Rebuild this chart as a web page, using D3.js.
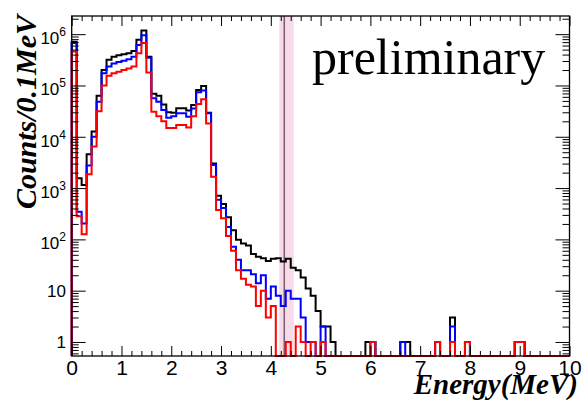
<!DOCTYPE html>
<html><head><meta charset="utf-8">
<script src="https://cdn.jsdelivr.net/npm/d3@7"></script>
<style>body{margin:0;background:#fff;} svg{display:block;}</style>
</head><body>
<svg id="c" width="582" height="401"></svg>
<script>
// ---- data (counts per 0.1 MeV bin, 100 bins from 0 to 10 MeV) ----
const binWidth = 0.1;
const blackCounts = [
 708000,1550,1150,4570,12600,63000,200000,316000,363000,389000,
 407000,427000,468000,776000,1175000,363000,69000,63000,42700,30200,
 29500,35900,35900,32400,41700,81300,97700,29500,3020,708,
 490,270,150,98,83,76,52,46,43,38,
 42,43,37,42,28,25,18,11,8,4,
 2,2,1,0,0,0,0,0,0,1,
 1,0,0,0,0,0,1,1,0,0,
 0,0,0,1,0,0,3,0,0,1,
 0,0,0,0,0,0,0,0,0,1,
 1,0,0,0,0,0,0,0,0,0];
const blueCounts = [
 676000,347,204,2750,10000,47900,174000,234000,269000,288000,
 302000,324000,363000,617000,955000,347000,56200,47900,33100,23400,
 25100,28800,28800,24500,35500,74100,79400,28800,2820,589,
 407,174,72,40,25,25,21,14,20,7,
 12,8,5,10,7,7,3,1,1,0,
 2,0,0,0,0,0,0,0,0,0,
 1,0,0,0,0,0,1,0,0,0,
 0,0,0,1,0,0,2,0,0,1,
 0,0,0,0,0,0,0,0,0,1,
 1,0,0,0,0,0,0,0,0,0];
const redCounts = [
 457000,282,126,1860,6460,31600,100000,155000,174000,186000,
 200000,214000,234000,427000,676000,178000,30900,25100,20000,14800,
 14800,17000,17000,15100,25100,43700,53700,18200,1660,372,
 257,117,60,25,17,13,12,5,10,3,
 5,0,0,1,0,2,1,0,1,0,
 1,0,0,0,0,0,0,0,0,0,
 1,0,0,0,0,0,0,0,0,0,
 0,0,0,1,0,0,1,0,0,1,
 0,0,0,0,0,0,0,0,0,1,
 1,0,0,0,0,0,0,0,0,0];
const xTickValues = [0,1,2,3,4,5,6,7,8,9,10];
const yTickValues = [1,10,100,1000,10000,100000,1000000];
const yTickBase = ["1","10","10","10","10","10","10"];
const yTickExp  = ["","","2","3","4","5","6"];
const qValue = 4.27;           // marker line (MeV)
const qWindow = [4.17, 4.46];  // shaded window (MeV)
const previewText = "preliminary";
const xTitle = "Energy(MeV)";
const yTitle = "Counts/0.1MeV";

// ---- layout ----
const m = {l: 71.7, r: 569.5, t: 16, b: 356};
const yMin = 0.533, yMax = 2.26e6;
const x = d3.scaleLinear().domain([0, 10]).range([m.l, m.r]);
const y = d3.scaleLog().domain([yMin, yMax]).range([m.b, m.t]);
const svg = d3.select('#c');

// shaded window and marker line
svg.append('rect')
  .attr('x', x(qWindow[0])).attr('y', m.t)
  .attr('width', x(qWindow[1]) - x(qWindow[0])).attr('height', m.b - m.t)
  .attr('fill', '#f7dbe9');
svg.append('line')
  .attr('x1', x(qValue)).attr('x2', x(qValue)).attr('y1', m.t).attr('y2', m.b)
  .attr('stroke', '#7d6272').attr('stroke-width', 1.6);

// histograms
const edges = d3.range(blackCounts.length).map(i => i * binWidth);
const line = d3.line().x(d => x(d[0])).y(d => y(Math.max(d[1], yMin))).curve(d3.curveStepAfter);
function hist(counts, color) {
  const pts = [[0, yMin]].concat(counts.map((c, i) => [edges[i], c]));
  pts.push([counts.length * binWidth, yMin]);
  svg.append('path').attr('d', line(pts)).attr('fill', 'none')
    .attr('stroke', color).attr('stroke-width', 2).attr('stroke-linejoin', 'miter');
}
hist(blackCounts, '#000');
hist(blueCounts, '#0000ff');
hist(redCounts, '#ff0000');

// axes (ticks inside, ROOT style)
const xMinor = d3.range(0, 10.001, 0.2).filter(v => Math.abs(v - Math.round(v)) > 1e-6);
const yMinor = [];
for (let e = -1; e <= 6; e++) for (let k = 2; k <= 9; k++) {
  const v = k * Math.pow(10, e);
  if (v > yMin && v < yMax) yMinor.push(v);
}
function styleAxis(g) {
  g.select('.domain').remove();
  g.selectAll('.tick line').attr('stroke', '#000').attr('stroke-width', 1);
}
svg.append('g').attr('transform', `translate(0,${m.b})`)
  .call(d3.axisBottom(x).tickValues(xTickValues).tickSize(-10).tickPadding(4).tickFormat(d3.format('d')))
  .call(styleAxis)
  .selectAll('text').attr('font-family', 'Liberation Sans, Arial, sans-serif').attr('font-size', 21).attr('fill', '#000');
svg.append('g').attr('transform', `translate(0,${m.b})`)
  .call(d3.axisBottom(x).tickValues(xMinor).tickSize(-5).tickFormat('')).call(styleAxis);
svg.append('g').attr('transform', `translate(0,${m.t})`)
  .call(d3.axisTop(x).tickValues(xTickValues).tickSize(-10).tickFormat('')).call(styleAxis);
svg.append('g').attr('transform', `translate(0,${m.t})`)
  .call(d3.axisTop(x).tickValues(xMinor).tickSize(-5).tickFormat('')).call(styleAxis);
svg.append('g').attr('transform', `translate(${m.l},0)`)
  .call(d3.axisLeft(y).tickValues(yTickValues).tickSize(-14).tickFormat('')).call(styleAxis);
svg.append('g').attr('transform', `translate(${m.l},0)`)
  .call(d3.axisLeft(y).tickValues(yMinor).tickSize(-7).tickFormat('')).call(styleAxis);
svg.append('g').attr('transform', `translate(${m.r},0)`)
  .call(d3.axisRight(y).tickValues(yTickValues).tickSize(-14).tickFormat('')).call(styleAxis);
svg.append('g').attr('transform', `translate(${m.r},0)`)
  .call(d3.axisRight(y).tickValues(yMinor).tickSize(-7).tickFormat('')).call(styleAxis);

// y tick labels with superscripts
const yl = svg.append('g').attr('font-family', 'Liberation Sans, Arial, sans-serif').attr('fill', '#000');
yTickValues.forEach((v, i) => {
  const hasExp = yTickExp[i] !== "";
  const t = yl.append('text').attr('text-anchor', 'end').attr('x', 66)
    .attr('y', y(v) + (hasExp ? 10 : 6)).attr('font-size', 17);
  t.append('tspan').text(yTickBase[i]);
  if (hasExp) t.append('tspan').attr('font-size', 12).attr('dy', -8).text(yTickExp[i]);
});

// frame
svg.append('rect').attr('x', m.l).attr('y', m.t).attr('width', m.r - m.l).attr('height', m.b - m.t)
  .attr('fill', 'none').attr('stroke', '#000').attr('stroke-width', 1.3);

// titles
svg.append('text').attr('x', 578).attr('y', 394).attr('text-anchor', 'end')
  .attr('font-family', 'Liberation Serif, Times New Roman, serif').attr('font-weight', 'bold').attr('font-style', 'italic')
  .attr('font-size', 29).text(xTitle);
svg.append('text').attr('transform', 'translate(36,112) rotate(-90)').attr('text-anchor', 'middle')
  .attr('font-family', 'Liberation Serif, Times New Roman, serif').attr('font-weight', 'bold').attr('font-style', 'italic')
  .attr('font-size', 30).text(yTitle);
svg.append('text').attr('x', 312).attr('y', 74)
  .attr('font-family', 'Liberation Serif, Times New Roman, serif').attr('font-size', 50).text(previewText);
</script>
</body></html>
